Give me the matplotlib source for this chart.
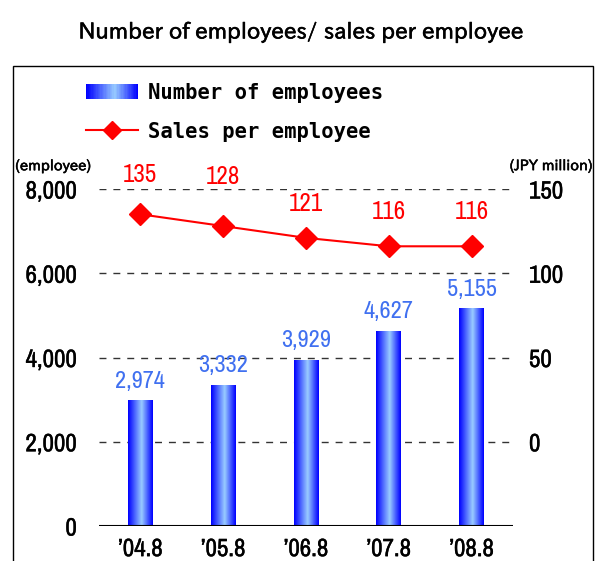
import numpy as np
import matplotlib
matplotlib.use("Agg")
import matplotlib.pyplot as plt
import matplotlib.patheffects as pe
from matplotlib.colors import LinearSegmentedColormap
from matplotlib.patches import Rectangle
from matplotlib.lines import Line2D
from matplotlib.legend_handler import HandlerBase

# Данные
years = ["’04.8", "’05.8", "’06.8", "’07.8", "’08.8"]
employees = [2974, 3332, 3929, 4627, 5155]
sales = [135, 128, 121, 116, 116]

# Смещение подписей над маркерами (pt), как в оригинале
sales_label_dy = [23, 30, 19.5, 19.5, 19.5]

plt.rcParams['font.family'] = ['Archivo Narrow', 'DejaVu Sans']
plt.rcParams['lines.scale_dashes'] = False

W, H = 595, 561
fig = plt.figure(figsize=(W / 100, H / 100), dpi=100)

heavy = [pe.withStroke(linewidth=0.3, foreground='black')]

# Градиент для столбцов
cmap = LinearSegmentedColormap.from_list(
    'bar', [(0, '#0000FF'), (0.55, '#99CCFF'), (1, '#0000FF')])
grad = np.linspace(0, 1, 64).reshape(1, -1)

ax = fig.add_axes([99 / W, 35 / H, 414 / W, 337 / H])
x = np.arange(len(years))

# Сетка
for g in [2000, 4000, 6000, 8000]:
    ax.axhline(g, color='#333333', lw=1, ls=(0, (5, 5)), zorder=1)
ax.axhline(0, color='black', lw=1.5, zorder=4)

bars = ax.bar(x, employees, width=0.3, color='none', zorder=2)
for r in bars:
    ax.imshow(grad, cmap=cmap, aspect='auto', zorder=2,
              extent=(r.get_x(), r.get_x() + r.get_width(), 0, r.get_height()))
for xi, v in zip(x, employees):
    ax.annotate(f"{v:,}", (xi, v), xytext=(0, 9.5), textcoords='offset points',
                ha='center', va='baseline', fontsize=17.5, color='#4070F0')

ax.set_xlim(-0.5, len(years) - 0.5)
ax.set_ylim(0, 8000)
ax.set_yticks([0, 2000, 4000, 6000, 8000])
ax.set_yticklabels([f"{v:,}" for v in [0, 2000, 4000, 6000, 8000]], fontsize=18)
ax.set_xticks(x)
ax.set_xticklabels(years, fontsize=18)
ax.tick_params(length=0)
ax.tick_params(axis='y', pad=16)
ax.tick_params(axis='x', pad=8)
for lab in ax.get_yticklabels() + ax.get_xticklabels():
    lab.set_path_effects(heavy)
for s in ax.spines.values():
    s.set_visible(False)

# Правая ось
ax2 = ax.twinx()
ax2.plot(x, sales, color='#FF0000', lw=1.5, marker='D', ms=11, zorder=5)
for xi, v, dy in zip(x, sales, sales_label_dy):
    ax2.annotate(str(v), (xi, v), xytext=(0, dy), textcoords='offset points',
                 ha='center', va='baseline', fontsize=18, color='#FF0000')
ax2.set_ylim(-50, 150)
ax2.set_yticks([0, 50, 100, 150])
ax2.set_yticklabels(['0', '50', '100', '150'], fontsize=18)
ax2.tick_params(length=0, pad=11.5)
for lab in ax2.get_yticklabels():
    lab.set_path_effects(heavy)
for s in ax2.spines.values():
    s.set_visible(False)

# Подписи единиц
bold_small = [pe.withStroke(linewidth=0.4, foreground='black')]
fig.text(15 / W, 1 - 166 / H, '(employee)', fontsize=10.5, family='IPAPGothic',
         ha='left', va='center', path_effects=bold_small)
fig.text(593 / W, 1 - 166 / H, '(JPY million)', fontsize=10.5, family='IPAPGothic',
         ha='right', va='center', path_effects=bold_small)

# Заголовок
fig.text(302 / W, 1 - 32 / H, 'Number of employees/ sales per employee',
         fontsize=16, family='IPAPGothic', ha='center', va='center',
         path_effects=bold_small)

# Рамка
fig.patches.append(Rectangle((13 / W, -0.1), 580 / W, 1 - 66 / H + 0.1,
                             transform=fig.transFigure, fill=False,
                             ec='black', lw=1))


# Легенда с градиентом
class HandlerGradient(HandlerBase):
    def create_artists(self, legend, orig_handle, xdescent, ydescent,
                       width, height, fontsize, trans):
        n = 40
        arts = []
        for i in range(n):
            arts.append(Rectangle((-xdescent + width * i / n, -ydescent),
                                  width / n * 1.05, height,
                                  fc=cmap(i / (n - 1)), ec='none',
                                  transform=trans))
        return arts


bar_handle = Rectangle((0, 0), 1, 1)
line_handle = Line2D([], [], color='#FF0000', lw=1.5, marker='D', ms=9)
fig.legend([bar_handle, line_handle], ['Number of employees', 'Sales per employee'],
           handler_map={Rectangle: HandlerGradient()},
           loc='upper left', bbox_to_anchor=(86 / W, 1 - 83 / H),
           frameon=False, borderpad=0, borderaxespad=0,
           handlelength=2.55, handleheight=0.75, handletextpad=0.45,
           labelspacing=0.9,
           prop={'family': 'DejaVu Sans Mono', 'weight': 'bold', 'size': 14.8})

fig.savefig('out.png', dpi=100)
